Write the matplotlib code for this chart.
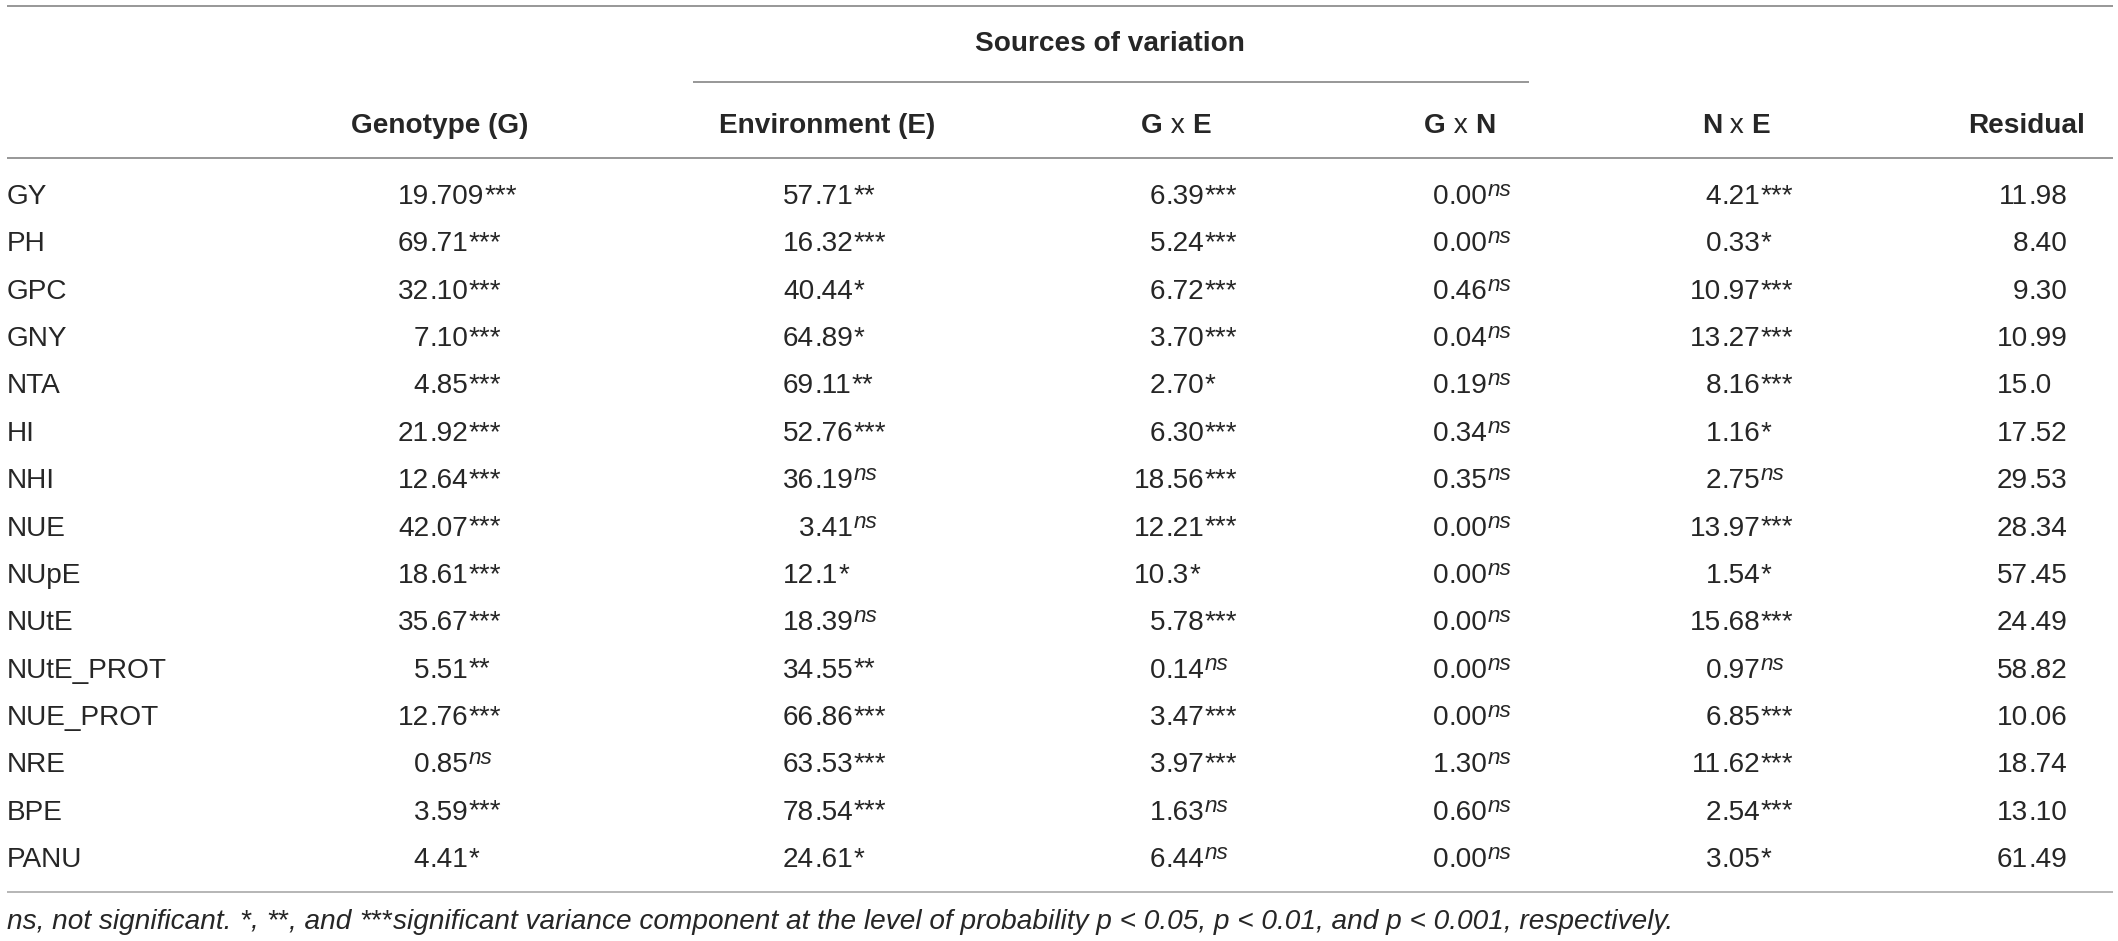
import matplotlib
matplotlib.use("Agg")
import matplotlib.pyplot as plt

# ---------------- data ----------------
traits = ["GY", "PH", "GPC", "GNY", "NTA", "HI", "NHI", "NUE", "NUpE", "NUtE",
          "NUtE_PROT", "NUE_PROT", "NRE", "BPE", "PANU"]

# header labels as (text, bold) runs
columns = [
    [("Genotype (G)", True)],
    [("Environment (E)", True)],
    [("G", True), (" x ", False), ("E", True)],
    [("G", True), (" x ", False), ("N", True)],
    [("N", True), (" x ", False), ("E", True)],
    [("Residual", True)],
]
group_title = "Sources of variation"

genotype = ["19.709", "69.71", "32.10", "7.10", "4.85", "21.92", "12.64", "42.07",
            "18.61", "35.67", "5.51", "12.76", "0.85", "3.59", "4.41"]
genotype_sig = ["***", "***", "***", "***", "***", "***", "***", "***",
                "***", "***", "**", "***", "ns", "***", "*"]

environment = ["57.71", "16.32", "40.44", "64.89", "69.11", "52.76", "36.19", "3.41",
               "12.1", "18.39", "34.55", "66.86", "63.53", "78.54", "24.61"]
environment_sig = ["**", "***", "*", "*", "**", "***", "ns", "ns",
                   "*", "ns", "**", "***", "***", "***", "*"]

gxe = ["6.39", "5.24", "6.72", "3.70", "2.70", "6.30", "18.56", "12.21",
       "10.3", "5.78", "0.14", "3.47", "3.97", "1.63", "6.44"]
gxe_sig = ["***", "***", "***", "***", "*", "***", "***", "***",
           "*", "***", "ns", "***", "***", "ns", "ns"]

gxn = ["0.00", "0.00", "0.46", "0.04", "0.19", "0.34", "0.35", "0.00",
       "0.00", "0.00", "0.00", "0.00", "1.30", "0.60", "0.00"]
gxn_sig = ["ns"] * 15

nxe = ["4.21", "0.33", "10.97", "13.27", "8.16", "1.16", "2.75", "13.97",
       "1.54", "15.68", "0.97", "6.85", "11.62", "2.54", "3.05"]
nxe_sig = ["***", "*", "***", "***", "***", "*", "ns", "***",
           "*", "***", "ns", "***", "***", "***", "*"]

residual = ["11.98", "8.40", "9.30", "10.99", "15.0", "17.52", "29.53", "28.34",
            "57.45", "24.49", "58.82", "10.06", "18.74", "13.10", "61.49"]
residual_sig = [""] * 15

# footnote runs: (text, is_superscript)
footnote = [("ns, not significant. ", False), ("*", True), (", ", False), ("**", True),
            (", and ", False), ("***", True),
            ("significant variance component at the level of probability "
             "p < 0.05, p < 0.01, and p < 0.001, respectively.", False)]

# ---------------- style ----------------
FONT = "Liberation Sans"
plt.rcParams["font.family"] = [FONT, "DejaVu Sans"]

W, H, DPI = 2118, 941, 100
FS = 20.2
TXT = "#262626"
LINE = "#7a7a7a"

fig = plt.figure(figsize=(W / DPI, H / DPI), dpi=DPI)
ax = fig.add_axes([0, 0, 1, 1])
ax.set_xlim(0, W)
ax.set_ylim(H, 0)
ax.axis("off")
renderer = fig.canvas.get_renderer()


def put(x, y, s, ha="left", **kw):
    kw.setdefault("fontsize", FS)
    kw.setdefault("color", TXT)
    t = ax.text(x, y, s, ha=ha, va="baseline", **kw)
    return t


def width(s, **kw):
    kw.setdefault("fontsize", FS)
    t = ax.text(0, 0, s, **kw)
    w = t.get_window_extent(renderer).width
    t.remove()
    return w


def sup(x, y, s, italic_base=False):
    """superscript significance mark starting at x"""
    if not s:
        return
    if s == "ns":
        put(x + 1, y - 8, s, fontsize=FS * 0.8, fontstyle="italic")
    else:
        put(x + 1, y - 1, s, fontsize=FS * 1.0,
            fontstyle="italic" if italic_base else "normal")


# layout (pixel coordinates)
left, right = 7, 2113
header_centers = [440, 827, 1176, 1460, 1736, 2027]
value_ends = [468, 853, 1204, 1487, 1760, 2067]   # end of a 2-decimal number
row0, row_step = 204, 47.36
header_base = 133

# rules
ax.plot([left, right], [5.5, 5.5], color=LINE, lw=1.1, solid_capstyle="butt")
ax.plot([693, 1529], [82, 82], color=LINE, lw=1.1, solid_capstyle="butt")
ax.plot([left, right], [158, 158], color=LINE, lw=1.1, solid_capstyle="butt")
ax.plot([left, right], [892, 892], color="#b5b5b5", lw=1.4, solid_capstyle="butt")

# headers
put(1110, 51, group_title, ha="center", fontweight="bold")
for cx, runs in zip(header_centers, columns):
    ws = [width(t, fontweight="bold" if b else "normal") for t, b in runs]
    x = cx - sum(ws) / 2
    for (t, b), w in zip(runs, ws):
        put(x, header_base, t, fontweight="bold" if b else "normal")
        x += w

# body
dec_w = width(".00")
series = [(genotype, genotype_sig), (environment, environment_sig), (gxe, gxe_sig),
          (gxn, gxn_sig), (nxe, nxe_sig), (residual, residual_sig)]

for i, trait in enumerate(traits):
    y = row0 + i * row_step
    put(left, y, trait)
    for (vals, sigs), xend in zip(series, value_ends):
        xdec = xend - dec_w
        ip, fp = vals[i].split(".")
        put(xdec, y, ip, ha="right")
        frac = "." + fp
        put(xdec, y, frac)
        sup(xdec + width(frac), y, sigs[i])

# footnote
x = left
fy = 929
for t, is_sup in footnote:
    if is_sup:
        put(x, fy - 1, t, fontstyle="italic")
        x += width(t, fontstyle="italic") + 1
    else:
        put(x, fy, t, fontstyle="italic")
        x += width(t, fontstyle="italic")

fig.savefig("out.png", dpi=DPI, facecolor="white")
